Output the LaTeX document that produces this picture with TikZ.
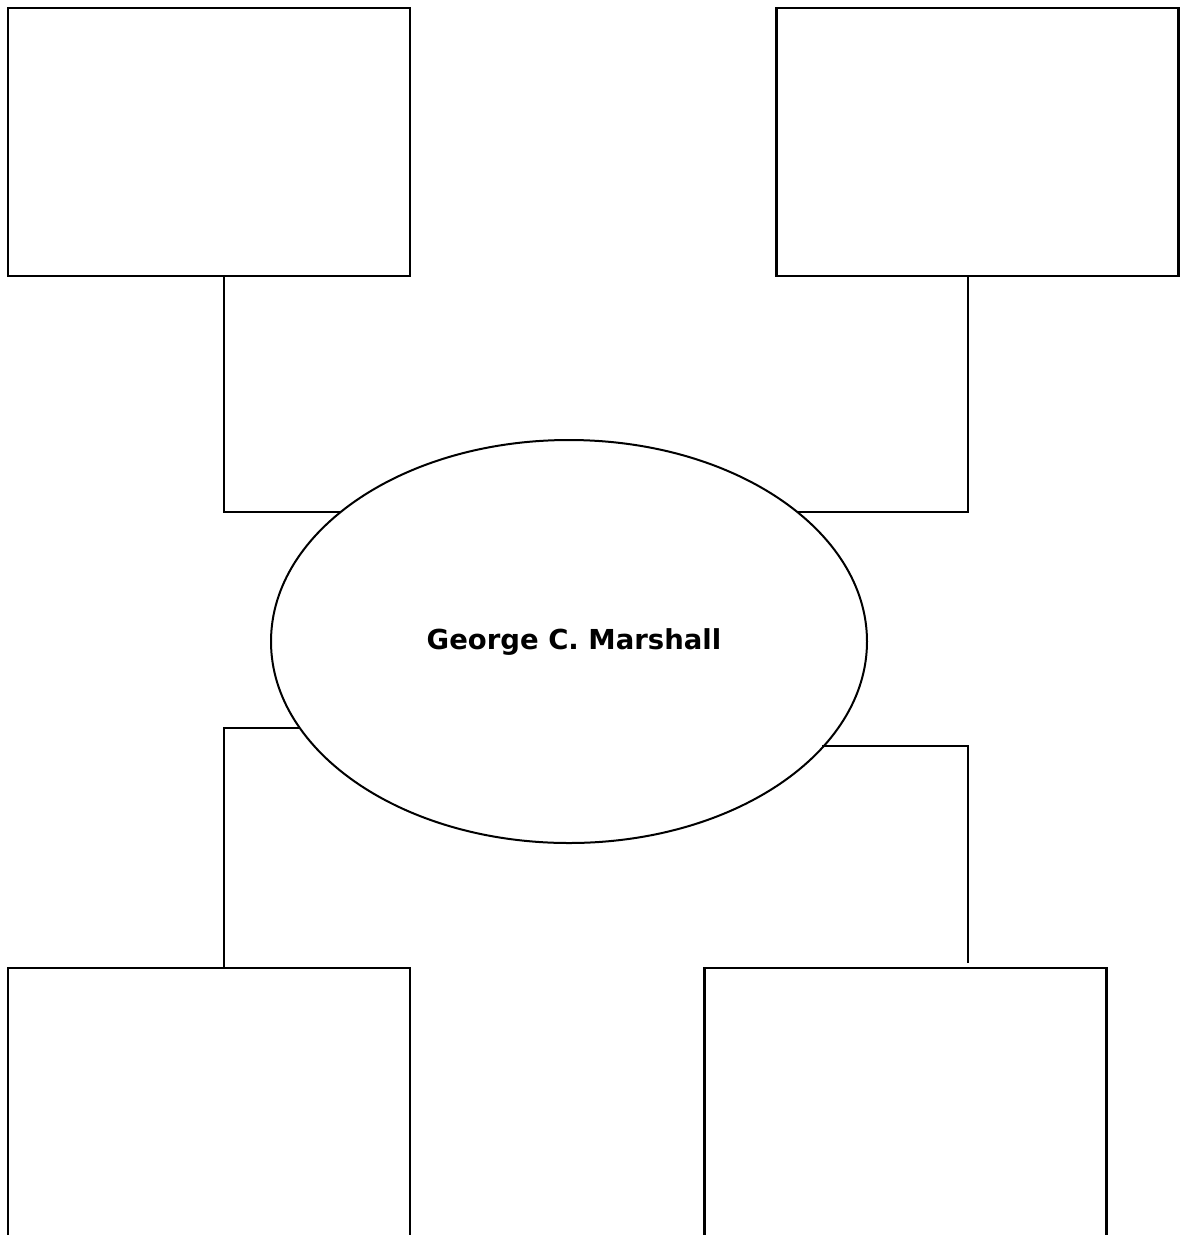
\documentclass[tikz,border=0pt]{standalone}
\usepackage{fontspec}
\newfontfamily\labelfont{DejaVu Sans}
\usetikzlibrary{shapes.geometric}
\begin{document}
\begin{tikzpicture}[x=1pt,y=-1pt,
  frame/.style={draw=black,line width=2.2pt,rectangle,inner sep=0pt,minimum width=402pt,minimum height=268pt},
  hub/.style={draw=black,line width=2pt,ellipse,inner sep=0pt,minimum width=596pt,minimum height=403pt},
  link/.style={draw=black,line width=2pt}]
\useasboundingbox (0,0) rectangle (1181,1235);
\clip (0,0) rectangle (1181,1235);
\fill[white] (0,0) rectangle (1181,1235);
\node[frame] (tl) at (209,142) {};
\node[frame] (tr) at (977.5,142) {};
\node[frame,minimum height=276pt] (bl) at (209,1106) {};
\node[frame,minimum height=276pt] (br) at (905.5,1106) {};
\node[hub] (ell) at (569,641.5) {};
\node[anchor=base,inner sep=0pt] (lbl) at (574,649) {\labelfont\bfseries\fontsize{27.5}{32}\selectfont George C. Marshall};
\coordinate (tlc) at (224,512);
\coordinate (trc) at (968,512);
\coordinate (blc) at (224,728);
\coordinate (brc) at (968,746);
\coordinate (brend) at (968,963);
\draw[link] (tl.south -| tlc) -- (tlc) -- (ell.150 |- tlc);
\draw[link] (tr.south -| trc) -- (trc) -- (ell.30 |- trc);
\draw[link] (bl.north -| blc) -- (blc) -- (ell.198 |- blc);
\draw[link] (brend) -- (brc) -- (ell.337 |- brc);
\end{tikzpicture}
\end{document}
